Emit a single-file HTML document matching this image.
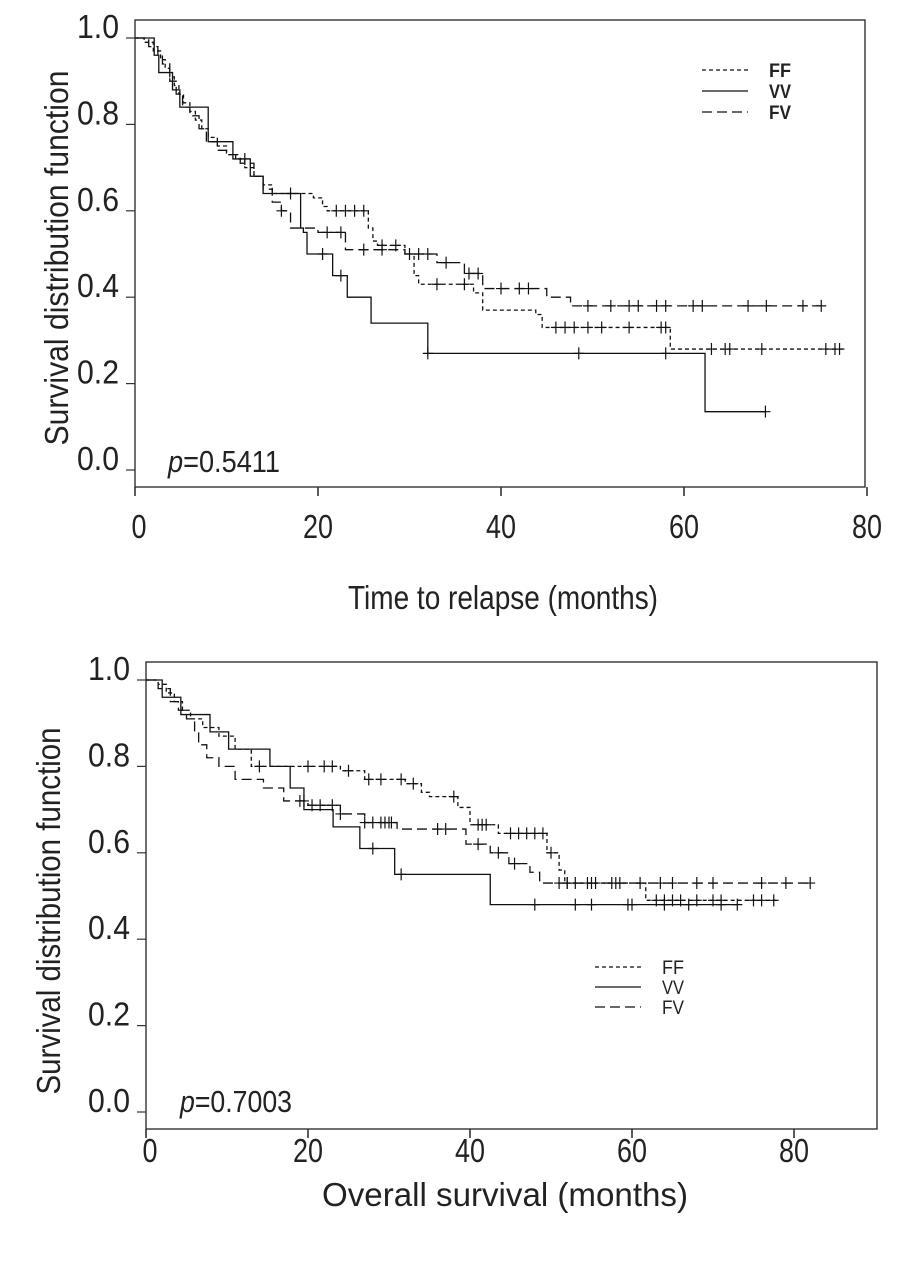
<!DOCTYPE html>
<html><head><meta charset="utf-8"><style>
html,body{margin:0;padding:0;background:#fff;}
svg{display:block;}
text{font-family:"Liberation Sans Narrow","Liberation Sans",sans-serif;fill:#222;}
</style></head><body>
<svg id="svg" width="920" height="1280" viewBox="0 0 920 1280" xmlns="http://www.w3.org/2000/svg">
<g id="c1"></g>
<g id="c2"></g>
</svg>
<script>
// ---- Chart 1 data: time to relapse ----
const xTicks = [0, 20, 40, 60, 80];
const yTicks = [0.0, 0.2, 0.4, 0.6, 0.8, 1.0];
const yTickLabels = ["0.0", "0.2", "0.4", "0.6", "0.8", "1.0"];
const seriesNames = ["FF", "VV", "FV"];

const r_VV_t = [2.1, 2.6, 4.1, 4.9, 8, 10.7, 12.6, 14, 18.1, 18.4, 18.8, 21.6, 23.2, 25.8, 32, 62.3];
const r_VV_s = [0.96, 0.92, 0.88, 0.84, 0.76, 0.72, 0.68, 0.64, 0.56, 0.55, 0.50, 0.45, 0.40, 0.34, 0.27, 0.135];
const r_VV_c = [12, 17, 20.5, 22.5, 32, 48.5, 58, 68.9];

const r_FF_t = [1, 2, 2.8, 3.3, 3.8, 4.3, 4.8, 5.3, 6, 6.6, 7.3, 8, 9, 10, 11, 12, 13, 14, 15, 19.5, 20.5, 21, 25.5, 26, 26.5, 29.5, 30.5, 31, 37, 38, 43.8, 44.5, 58.5];
const r_FF_s = [0.99, 0.97, 0.95, 0.93, 0.91, 0.89, 0.87, 0.85, 0.83, 0.81, 0.79, 0.77, 0.75, 0.73, 0.72, 0.70, 0.68, 0.66, 0.64, 0.63, 0.61, 0.60, 0.56, 0.53, 0.52, 0.50, 0.45, 0.43, 0.41, 0.37, 0.36, 0.33, 0.28];
const r_FF_c = [22, 23, 24, 25, 27, 28.5, 30, 33, 36, 46, 47, 48, 49.5, 51, 54, 57.5, 58, 63, 64.5, 65, 68.5, 75.5, 76.5, 77];

const r_FV_t = [1.5, 2.5, 3, 3.8, 4.5, 5.2, 6, 7, 7.8, 9, 10, 11.5, 13, 14, 15, 16, 17, 20, 23, 29.5, 33, 36, 38, 45, 47.6];
const r_FV_s = [0.98, 0.96, 0.94, 0.90, 0.87, 0.84, 0.82, 0.79, 0.76, 0.74, 0.73, 0.71, 0.68, 0.65, 0.62, 0.60, 0.56, 0.55, 0.51, 0.50, 0.48, 0.455, 0.42, 0.40, 0.38];
const r_FV_c = [16, 21, 22.5, 25, 27, 31, 32, 34, 36.5, 37.5, 40, 42, 43, 49.5, 52, 54, 55, 57, 58, 61, 62, 67, 69, 73, 75];

// ---- Chart 2 data: overall survival ----
const o_VV_t = [2, 4.3, 7.9, 10.2, 15.3, 17.8, 19.5, 23.1, 26.4, 30.7, 42.5];
const o_VV_s = [0.96, 0.92, 0.88, 0.84, 0.80, 0.75, 0.70, 0.66, 0.61, 0.55, 0.48];
const o_VV_c = [28, 31.5, 48, 53, 55, 59.5, 60, 64, 67, 71, 73];

const o_FF_t = [1.5, 2.5, 3.5, 4.5, 5.5, 7, 9, 11, 13, 24, 27, 32, 34, 35, 38.5, 40, 43.5, 49.5, 51, 51.7, 61.7];
const o_FF_s = [0.99, 0.97, 0.95, 0.93, 0.91, 0.89, 0.87, 0.84, 0.80, 0.79, 0.77, 0.76, 0.74, 0.73, 0.705, 0.665, 0.645, 0.60, 0.56, 0.53, 0.49];
const o_FF_c = [14, 20, 22, 23, 25, 27.5, 29, 31.5, 33, 38, 41, 41.5, 42, 45, 46, 47, 48, 49, 50, 52, 53, 55, 58, 63, 64, 65, 66, 68, 70, 71, 75, 76, 77.5];

const o_FV_t = [1.5, 3, 4, 5, 6, 6.5, 7.5, 9, 11, 14.5, 17, 20, 24, 27, 31, 39.5, 42.5, 44.8, 47.4, 48.6];
const o_FV_s = [0.98, 0.95, 0.93, 0.91, 0.88, 0.85, 0.82, 0.80, 0.77, 0.75, 0.72, 0.71, 0.69, 0.67, 0.655, 0.62, 0.60, 0.575, 0.555, 0.53];
const o_FV_c = [19, 19.5, 20.5, 21.5, 23, 24, 27, 28, 29, 29.5, 30, 30.3, 36, 37, 41, 43.5, 45.5, 51, 52, 54.5, 55.5, 57.5, 58.5, 61, 63.5, 65, 68, 70, 76, 79, 82];

const NS = "http://www.w3.org/2000/svg";
function mk(parent, tag, attrs, txt) {
  const e = document.createElementNS(NS, tag);
  for (const k in attrs) e.setAttribute(k, attrs[k]);
  if (txt !== undefined) e.textContent = txt;
  parent.appendChild(e);
  return e;
}
function survAt(ts, ss, t) { let s = 1; for (let i = 0; i < ts.length; i++) { if (ts[i] <= t) s = ss[i]; } return s; }

function drawChart(g, cfg) {
  const X = t => cfg.x0 + t * cfg.xs;
  const Y = s => cfg.y0 - s * cfg.ys;
  const frame = mk(g, "rect", {x: cfg.L, y: cfg.T, width: cfg.R - cfg.L, height: cfg.B - cfg.T, fill: "none", stroke: "#333", "stroke-width": 1.4});
  
  
  yTicks.forEach((v, i) => {
    const tk = mk(g, "line", {x1: cfg.L - 9, x2: cfg.L, y1: Y(v), y2: Y(v), stroke: "#333", "stroke-width": 1.2});
    
    
    const tl = mk(g, "text", {x: cfg.ylabR, y: Y(v), "text-anchor": "end", "font-size": 33, textLength: 42, lengthAdjust: "spacingAndGlyphs"}, yTickLabels[i]);
    
    
  });
  xTicks.forEach(v => {
    const tk = mk(g, "line", {x1: X(v), x2: X(v), y1: cfg.B, y2: cfg.B + 9, stroke: "#333", "stroke-width": 1.6});
    
    
    const s = String(v);
    const tl = mk(g, "text", {x: X(v) + (v === 0 ? 4 : 0), y: cfg.xlabY, "text-anchor": "middle", "font-size": 33, textLength: s.length * 15, lengthAdjust: "spacingAndGlyphs"}, s);
    
    
  });
  const yt = mk(g, "text", {x: 0, y: 0, transform: `translate(${cfg.ytX},${cfg.ytY}) rotate(-90)`, "text-anchor": "middle", "font-size": 33, textLength: cfg.ytLen, lengthAdjust: "spacingAndGlyphs"}, "Survival distribution function");
  
  
  const xt = mk(g, "text", {x: cfg.xtX, y: cfg.xtY, "text-anchor": "middle", "font-size": 33, textLength: cfg.xtLen, lengthAdjust: "spacingAndGlyphs"}, cfg.xTitle);
  
  
  const pt = mk(g, "text", {x: cfg.pX, y: cfg.pY, "font-size": 31, textLength: 112, lengthAdjust: "spacingAndGlyphs"});
  
  
  mk(pt, "tspan", {"font-style": "italic"}, "p");
  mk(pt, "tspan", {}, cfg.pText);

  const dashes = {FF: "4,3", VV: "", FV: "10,5"};
  cfg.series.forEach(sr => {
    let d = `M${X(0)},${Y(1)}`;
    sr.t.forEach((t, i) => { d += ` H${X(t)} V${Y(sr.s[i])}`; });
    d += ` H${X(sr.end)}`;
    const p = mk(g, "path", {d: d, fill: "none", stroke: "#111", "stroke-width": 1.3, "stroke-dasharray": dashes[sr.name]});
    
    
    sr.c.forEach(ct => {
      const cy = Y(survAt(sr.t, sr.s, ct));
      const m = mk(g, "path", {d: `M${X(ct)},${cy - 6} V${cy + 6} M${X(ct) - 5},${cy} H${X(ct) + 5}`, stroke: "#111", "stroke-width": 1.2, fill: "none"});
      
      
    });
  });
  seriesNames.forEach((n, i) => {
    const ly = cfg.legY + i * cfg.legDy;
    const ll = mk(g, "line", {x1: cfg.legX, x2: cfg.legX + 46, y1: ly, y2: ly, stroke: "#111", "stroke-width": 1.3, "stroke-dasharray": dashes[n]});
    
    
    const lt = mk(g, "text", {x: cfg.legX + 67, y: ly + 7, "font-size": 19, "font-weight": cfg.legBold ? "bold" : "normal", textLength: 22, lengthAdjust: "spacingAndGlyphs"}, n);
    
    
  });
}

drawChart(document.getElementById("c1"), {
  L: 135, R: 865, T: 20, B: 487, x0: 135, xs: 9.15, y0: 470, ys: 432,
  ylabR: 119, xlabY: 538, ytX: 68, ytY: 258, ytLen: 375,
  xTitle: "Time to relapse (months)", xtX: 503, xtY: 609, xtLen: 310,
  pX: 168, pY: 472, pText: "=0.5411",
  legX: 702, legY: 70, legDy: 21, legBold: true,
  series: [
    {name: "FF", t: r_FF_t, s: r_FF_s, c: r_FF_c, end: 77.4},
    {name: "VV", t: r_VV_t, s: r_VV_s, c: r_VV_c, end: 68.9},
    {name: "FV", t: r_FV_t, s: r_FV_s, c: r_FV_c, end: 75}
  ]
});
drawChart(document.getElementById("c2"), {
  L: 146, R: 877, T: 662, B: 1129, x0: 146, xs: 8.1, y0: 1112, ys: 432,
  ylabR: 130, xlabY: 1162, ytX: 60, ytY: 911, ytLen: 367,
  xTitle: "Overall survival (months)", xtX: 505, xtY: 1206, xtLen: 366,
  pX: 180, pY: 1112, pText: "=0.7003",
  legX: 595, legY: 967, legDy: 20, legBold: false,
  series: [
    {name: "FF", t: o_FF_t, s: o_FF_s, c: o_FF_c, end: 78},
    {name: "VV", t: o_VV_t, s: o_VV_s, c: o_VV_c, end: 73},
    {name: "FV", t: o_FV_t, s: o_FV_s, c: o_FV_c, end: 82}
  ]
});
</script>
</body></html>
